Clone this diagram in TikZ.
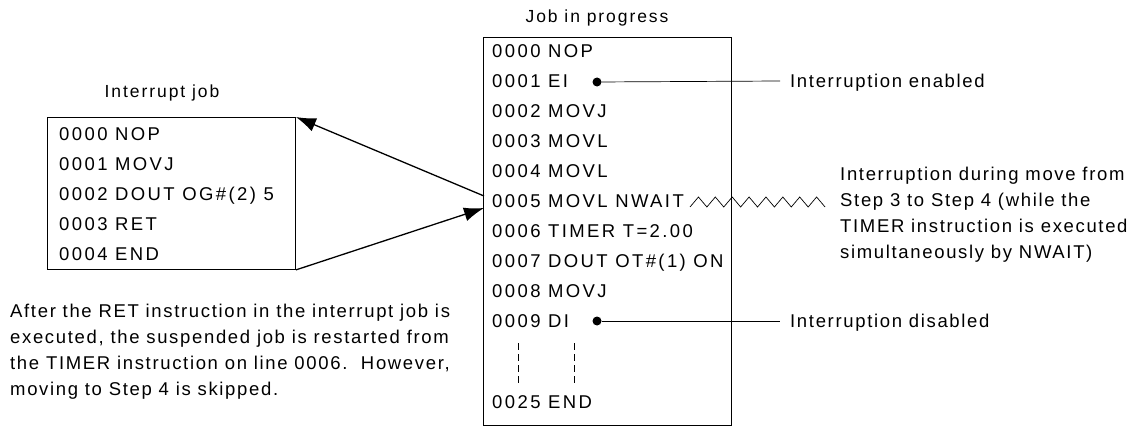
\documentclass[tikz,border=0pt]{standalone}
\usepackage{fontspec}
\setmainfont{Liberation Sans}
\newfontfamily\codefont{Liberation Sans}[LetterSpace=13]
\newfontfamily\titlefont{Liberation Sans}[LetterSpace=11]
\newfontfamily\labelfont{Liberation Sans}[LetterSpace=9]
\usetikzlibrary{arrows.meta}
\begin{document}
\begin{tikzpicture}[x=1pt,y=-1pt,
  txt/.style={inner sep=0pt, anchor=west, text height=12.8pt, text depth=0pt,
              font=\labelfont\fontsize{18.5}{26}\selectfont},
  code/.style={txt, font=\codefont\fontsize{18.5}{26}\selectfont},
  note/.style={txt},
  ctitle/.style={txt, anchor=center, text height=12.4pt, font=\titlefont\fontsize{17.5}{26}\selectfont},
  codebox/.style={draw, line width=0.9pt, inner sep=0pt, anchor=north west},
  dot/.style={circle, fill, inner sep=0pt, minimum size=9pt},
  lead/.style={line width=0.7pt},
  arr/.style={line width=1.3pt, -{Latex[length=20pt, width=14pt]}}]
\useasboundingbox (0,0) rectangle (1135,428);

% ---- job in progress ----
\node[ctitle] (jt) at (597,16) {Job in progress};
\node[codebox, minimum width=248pt, minimum height=388pt] (job) at (483,37) {};
\node[code] (j0) at (492,51)  {0000 NOP};
\node[code] (j1) at (492,81)  {0001 EI};
\node[code] (j2) at (492,111) {0002 MOVJ};
\node[code] (j3) at (492,141) {0003 MOVL};
\node[code] (j4) at (492,171) {0004 MOVL};
\node[code] (j5) at (492,201) {0005 MOVL NWAIT};
\node[code] (j6) at (492,231) {0006 TIMER T=2.00};
\node[code] (j7) at (492,261) {0007 DOUT OT\#(1) ON};
\node[code] (j8) at (492,291) {0008 MOVJ};
\node[code] (j9) at (492,321) {0009 DI};
\node[code] (j25) at (492,402) {0025 END};
\coordinate (da1) at (518,343); \coordinate (db1) at (518,386);
\coordinate (da2) at (574,343); \coordinate (db2) at (574,386);
\draw[lead, dash pattern=on 7pt off 4pt] (da1) -- (db1);
\draw[lead, dash pattern=on 7pt off 4pt] (da2) -- (db2);

% ---- interrupt job ----
\node[ctitle] (it) at (162,91) {Interrupt job};
\node[codebox, minimum width=248pt, minimum height=152pt] (intr) at (47,117) {};
\node[code] (i0) at (59,134) {0000 NOP};
\node[code] (i1) at (59,164) {0001 MOVJ};
\node[code] (i2) at (59,194) {0002 DOUT OG\#(2) 5};
\node[code] (i3) at (59,224) {0003 RET};
\node[code] (i4) at (59,254) {0004 END};

% ---- jump to the interrupt job and return ----
\coordinate (out) at (484,196);
\coordinate (back) at (484,208);
\draw[arr] (out) -- (intr.north east);
\draw[arr] (intr.south east) -- (back);

% ---- enable / disable markers ----
\node[dot] (ei) at (597,82) {};
\node[dot] (di) at (597,321) {};
\node[txt] (en) at (790,81) {Interruption enabled};
\node[txt] (dis) at (790,321) {Interruption disabled};
\draw[lead] (ei) -- ([xshift=-10pt]en.west);
\draw[lead] (di) -- ([xshift=-10pt]dis.west);

% ---- interruption during motion ----
\coordinate (zz) at (690,207);
\draw[lead] (zz) foreach \k in {1,...,8} { -- ++(8.44,-10) -- ++(8.44,10) };
\node[txt] (m1) at (840,174) {Interruption during move from};
\node[txt] (m2) at (840,200) {Step 3 to Step 4 (while the};
\node[txt] (m3) at (840,226) {TIMER instruction is executed};
\node[txt] (m4) at (840,252) {simultaneously by NWAIT)};

% ---- note on resuming ----
\node[note] (p1) at (10,311) {After the RET instruction in the interrupt job is};
\node[note] (p2) at (10,337) {executed, the suspended job is restarted from};
\node[note] (p3) at (10,363) {the TIMER instruction on line 0006.\ \ However,};
\node[note] (p4) at (10,389) {moving to Step 4 is skipped.};
\end{tikzpicture}
\end{document}
